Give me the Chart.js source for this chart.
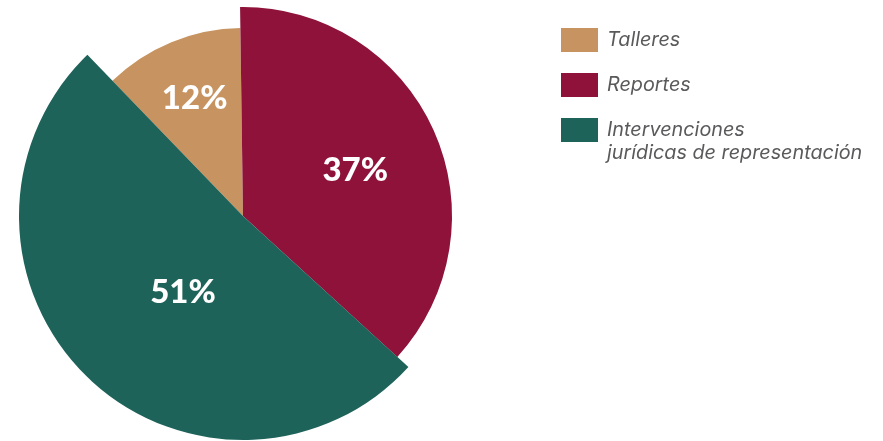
<!DOCTYPE html>
<html>
<head>
<meta charset="utf-8">
<script src="https://cdn.jsdelivr.net/npm/chart.js@4.4.1/dist/chart.umd.min.js"></script>
<style>
  html, body { margin: 0; padding: 0; background: #ffffff; }
  #wrap { position: relative; width: 883px; height: 441px; }
  #c { position: absolute; left: 0; top: 0; }
  #legend { position: absolute; left: 561px; top: 28px; font-family: Inter, Lato, sans-serif; }
  .item { position: absolute; left: 0; white-space: nowrap; }
  .box { position: absolute; left: 0; top: 0; width: 37px; height: 24px; }
  .txt { position: absolute; left: 46px; top: 0px; font-style: italic; font-size: 19.8px; line-height: 23px; color: #5a5a5c; }
</style>
</head>
<body>
<div id="wrap">
  <canvas id="c" width="883" height="441"></canvas>
  <div id="legend"></div>
</div>
<script>
// ---- data ----
const categories = ["Talleres", "Reportes", "Intervenciones jurídicas de representación"];
const legendLines = [["Talleres"], ["Reportes"], ["Intervenciones", "jurídicas de representación"]];
const values = [12, 37, 51];
const valueLabels = ["12%", "37%", "51%"];
const colors = ["#C79461", "#8E1239", "#1E635A"];

// ---- HTML legend ----
const legend = document.getElementById('legend');
categories.forEach((cat, i) => {
  const item = document.createElement('div');
  item.className = 'item';
  item.style.top = (i * 45) + 'px';
  const box = document.createElement('div');
  box.className = 'box';
  box.style.background = colors[i];
  const txt = document.createElement('div');
  txt.className = 'txt';
  txt.innerHTML = legendLines[i].join('<br>');
  item.appendChild(box);
  item.appendChild(txt);
  legend.appendChild(item);
});

// per-slice outer radius (fraction of base radius) and label placement
const sliceStyle = {
  radiusFactor: [188 / 224, 209 / 224, 1],
  labelFrac: [0.675, 0.58, 0.433],
  labelAngleTweak: [0, 2, -6]
};

const variableRadius = {
  id: 'variableRadius',
  afterDatasetsUpdate(chart) {
    const meta = chart.getDatasetMeta(0);
    meta.data.forEach((arc, i) => {
      arc.outerRadius = arc.outerRadius * sliceStyle.radiusFactor[i];
    });
  }
};

const sliceLabels = {
  id: 'sliceLabels',
  afterDatasetsDraw(chart) {
    const ctx = chart.ctx;
    const meta = chart.getDatasetMeta(0);
    ctx.save();
    ctx.fillStyle = '#ffffff';
    ctx.font = '900 33px Lato, "Open Sans", sans-serif';
    ctx.textAlign = 'center';
    ctx.textBaseline = 'middle';
    meta.data.forEach((arc, i) => {
      const a = (arc.startAngle + arc.endAngle) / 2 + sliceStyle.labelAngleTweak[i] * Math.PI / 180;
      const r = arc.outerRadius * sliceStyle.labelFrac[i];
      ctx.fillText(valueLabels[i], arc.x + Math.cos(a) * r, arc.y + Math.sin(a) * r);
    });
    ctx.restore();
  }
};

new Chart(document.getElementById('c'), {
  type: 'pie',
  data: {
    labels: categories,
    datasets: [{
      data: values,
      backgroundColor: colors,
      borderWidth: 0,
      clip: false
    }]
  },
  options: {
    responsive: false,
    animation: false,
    events: [],
    rotation: -44,
    radius: 224,
    layout: { padding: { left: 0, top: 0, right: 397, bottom: 9 } },
    plugins: {
      legend: { display: false },
      tooltip: { enabled: false }
    }
  },
  plugins: [variableRadius, sliceLabels]
});
</script>
</body>
</html>
